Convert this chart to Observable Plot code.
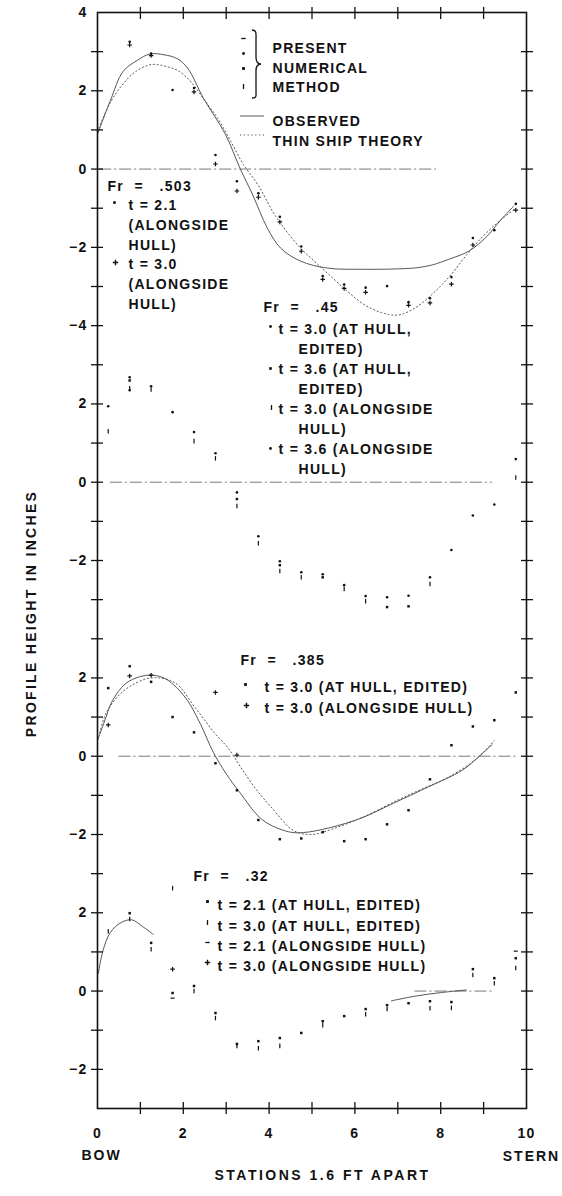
<!DOCTYPE html>
<html>
<head>
<meta charset="utf-8">
<script src="https://cdn.jsdelivr.net/npm/d3@7"></script>
<script src="https://cdn.jsdelivr.net/npm/@observablehq/plot@0.6"></script>
<style>
  body { margin: 0; background: #fff; }
  svg text { white-space: pre; }
</style>
</head>
<body>
<div id="chart"></div>
<script>
// ---------------- DATA ----------------
// stations along the hull (x values of the computed points)
const stations = [0.25, 0.75, 1.25, 1.75, 2.25, 2.75, 3.25, 3.75, 4.25, 4.75,
                  5.25, 5.75, 6.25, 6.75, 7.25, 7.75, 8.25, 8.75, 9.25, 9.75];

// Fr = .503
const fr503_t21Along = [null, 3.25, 2.95, 2.02, 2.07, 0.36, -0.31, -0.62, -1.22, -1.98, -2.73, -2.95, -3.03, -2.99, -3.40, -3.30, -2.76, -1.76, -1.56, -0.89];
const fr503_t30Along = [null, 3.17, 2.90, null, 1.97, 0.13, -0.56, -0.72, -1.35, -2.10, -2.82, -3.05, -3.15, null, -3.48, -3.42, -2.94, -1.94, null, -1.05];
const fr503_observed = [[0, 0.89], [0.3, 1.75], [0.6, 2.5], [0.93, 2.78], [1.22, 2.94], [1.55, 2.92], [1.86, 2.82], [2.1, 2.58], [2.47, 1.81], [2.98, 0.89], [3.33, 0], [3.61, -0.64], [3.96, -1.51], [4.27, -2.02], [4.73, -2.35], [5.36, -2.53], [6.2, -2.56], [7.0, -2.55], [7.45, -2.52], [7.8, -2.45], [8.2, -2.3], [8.65, -2.1], [9.05, -1.75], [9.4, -1.3], [9.7, -0.95]];
const fr503_theory = [[0.03, 1.05], [0.3, 1.7], [0.6, 2.18], [0.9, 2.5], [1.25, 2.67], [1.6, 2.62], [1.9, 2.5], [2.2, 2.2], [2.5, 1.75], [2.8, 1.3], [3.1, 0.72], [3.4, 0.12], [3.75, -0.42], [4.15, -1.2], [4.7, -1.98], [5.05, -2.35], [5.4, -2.7], [5.8, -3.1], [6.2, -3.45], [6.6, -3.66], [7.0, -3.73], [7.4, -3.55], [7.8, -3.2], [8.2, -2.75], [8.6, -2.2], [9.0, -1.7], [9.4, -1.3], [9.75, -1.0]];

// Fr = .45
const fr45_t30Hull  = [1.94, 2.68, 2.45, 1.79, 1.28, 0.74, -0.26, -1.38, -2.02, -2.30, -2.35, -2.63, -2.91, -2.94, -2.90, -2.43, -1.73, -0.85, -0.57, 0.59];
const fr45_t36Hull  = [null, 2.60, null, null, null, null, -0.43, null, -2.12, null, -2.43, null, null, -3.19, -3.17, null, null, null, null, null];
const fr45_t30Along = [1.30, 2.40, 2.37, null, 1.05, 0.61, -0.61, -1.56, -2.27, -2.43, null, -2.73, -3.04, null, null, -2.60, null, null, null, 0.12];
const fr45_t36Along = [null, 2.35, null, null, null, null, null, null, null, null, null, null, null, null, null, null, null, null, null, null];

// Fr = .385
const fr385_t30Hull  = [1.74, 2.30, 1.90, 1.00, 0.61, -0.18, -0.87, -1.63, -2.12, -2.10, -1.94, -2.17, -2.12, -1.74, -1.38, -0.59, 0.28, 0.76, 0.92, 1.63];
const fr385_t30Along = [0.80, 2.05, 2.07, null, null, 1.63, 0.03, null, null, null, null, null, null, null, null, null, null, null, null, null];
const fr385_observed = [[0, 0.4], [0.15, 0.85], [0.35, 1.42], [0.65, 1.85], [0.98, 2.03], [1.25, 2.07], [1.5, 2.02], [1.75, 1.85], [2.1, 1.42], [2.4, 0.82], [2.7, 0.1], [3.0, -0.45], [3.3, -0.9], [3.85, -1.63], [4.45, -1.93], [4.8, -1.95], [5.4, -1.83], [6.15, -1.58], [6.9, -1.2], [7.7, -0.79], [8.5, -0.36], [8.9, 0], [9.2, 0.3]];
const fr385_theory = [[0.05, 0.6], [0.2, 1.1], [0.45, 1.5], [0.75, 1.78], [1.25, 2.0], [1.8, 1.88], [2.27, 1.25], [2.74, 0.58], [3.05, 0.2], [3.35, -0.3], [3.7, -0.85], [4.05, -1.3], [4.57, -1.9], [5.0, -2.0], [5.5, -1.85], [6.2, -1.55], [7.0, -1.12], [7.6, -0.82], [8.1, -0.58], [8.8, -0.1], [9.25, 0.4]];

// Fr = .32
const fr32_t21Hull  = [null, 1.99, 1.23, -0.05, 0.13, -0.56, -1.35, -1.28, -1.20, -1.07, -0.77, -0.64, -0.46, -0.36, -0.31, -0.26, -0.28, 0.56, 0.33, 0.84];
const fr32_t30Hull  = [1.53, 1.84, 1.07, 2.63, 0.00, -0.69, -1.40, -1.46, -1.40, null, -0.87, null, -0.59, -0.46, null, -0.44, -0.43, 0.41, 0.20, 0.59];
const fr32_t21Along = [null, null, null, -0.18, null, null, null, null, null, null, null, null, null, null, null, null, null, null, null, 1.02];
const fr32_t30Along = [null, null, null, 0.56, null, null, null, null, null, null, null, null, null, null, null, null, null, null, null, null];
const fr32_observedBow   = [[0.02, 0.45], [0.12, 1.0], [0.3, 1.5], [0.55, 1.75], [0.8, 1.82], [1.05, 1.65], [1.3, 1.45]];
const fr32_observedStern = [[6.85, -0.25], [7.4, -0.13], [8.0, -0.04], [8.6, 0.03]];

// zero reference lines (x extent) per panel
const zeroExtent = {fr503: [0.05, 7.9], fr45: [0.3, 9.2], fr385: [0.5, 9.8], fr32: [7.4, 9.2]};

// tick labels of each panel (local units)
const tickLabels = {fr503: [4, 2, 0, -2, -4], fr45: [2, 0, -2], fr385: [2, 0, -2], fr32: [2, 0, -2]};
const xTickLabels = [0, 2, 4, 6, 8, 10];

// ---------------- LAYOUT ----------------
// vertical position of each panel's zero on the common axis
const panelZero = {fr503: 0, fr45: -8, fr385: -15, fr32: -21};
const ML = 97, MR = 36, MT = 12, MB = 88;

const fmt = v => v < 0 ? "\u2212" + Math.abs(v) : String(v);
const labelOf = new Map();
for (const p in tickLabels) for (const v of tickLabels[p]) labelOf.set(v + panelZero[p], fmt(v));

function pts(values, panel) {
  return stations.map((x, i) => ({x, y: values[i] == null ? null : values[i] + panelZero[panel]}))
                 .filter(d => d.y != null);
}
function crv(pairs, panel) {
  return pairs.map(([x, y]) => ({x, y: y + panelZero[panel]}));
}

// small marker symbols (filled)
const symDash = {draw(ctx, size) { const r = Math.sqrt(size / Math.PI); ctx.rect(-r * 1.7, -r * 0.5, r * 3.4, r * 1.0); }};
const symBar  = {draw(ctx, size) { const r = Math.sqrt(size / Math.PI); ctx.rect(-r * 0.5, -r * 1.9, r * 1.0, r * 3.8); }};
const symPlus = {draw(ctx, size) { const r = Math.sqrt(size / Math.PI);
  ctx.rect(-r * 1.5, -r * 0.4, r * 3.0, r * 0.8); ctx.rect(-r * 0.4, -r * 1.5, r * 0.8, r * 3.0); }};

const INK = "#111";
const dotOpts = (symbol, r = 1.4) => ({x: "x", y: "y", symbol, r, fill: INK, stroke: "none"});
const obsOpts = {x: "x", y: "y", curve: "catmull-rom", stroke: "#444", strokeWidth: 0.9};
const thyOpts = {x: "x", y: "y", curve: "catmull-rom", stroke: "#555", strokeWidth: 1, strokeDasharray: "1.2,2.6"};

// text helper: px = left x, base = baseline y (page pixels)
function txt(s, px, base, o = {}) {
  return Plot.text([s], {frameAnchor: "top-left", dx: px - ML, dy: base - 10 - MT,
    lineAnchor: "top", textAnchor: "start", fontSize: 14, fontWeight: "bold", fill: INK, lineHeight: 1.41, ...o});
}
function sym(symbol, px, py, r = 1.5) {
  return Plot.dot([0], {frameAnchor: "top-left", dx: px - ML, dy: py - MT, symbol, r, fill: INK, stroke: "none"});
}

const zeroRows = Object.keys(zeroExtent).map(p => ({x1: zeroExtent[p][0], x2: zeroExtent[p][1], y: panelZero[p]}));
const tickStyle = {stroke: INK, strokeWidth: 1.3, label: null, tickFormat: () => ""};

const plot = Plot.plot({
  width: 562, height: 1196,
  marginTop: MT, marginBottom: MB, marginLeft: ML, marginRight: MR,
  x: {domain: [0, 10], label: null},
  y: {domain: [-24, 4], label: null},
  style: {fontFamily: "'Liberation Sans', Arial, sans-serif", fontSize: "14px", fontWeight: "bold",
          letterSpacing: "1.3px", color: INK, background: "#fff"},
  marks: [
    // zero lines
    Plot.ruleY(zeroRows, {y: "y", x1: "x1", x2: "x2", stroke: "#555", strokeWidth: 0.8, strokeDasharray: "12,3,2,3"}),
    // curves
    Plot.line(crv(fr503_observed, "fr503"), obsOpts),
    Plot.line(crv(fr503_theory, "fr503"), thyOpts),
    Plot.line(crv(fr385_observed, "fr385"), obsOpts),
    Plot.line(crv(fr385_theory, "fr385"), thyOpts),
    Plot.line(crv(fr32_observedBow, "fr32"), obsOpts),
    Plot.line(crv(fr32_observedStern, "fr32"), obsOpts),
    // points
    Plot.dot(pts(fr503_t21Along, "fr503"), dotOpts("circle", 1.3)),
    Plot.dot(pts(fr503_t30Along, "fr503"), dotOpts(symPlus, 1.5)),
    Plot.dot(pts(fr45_t30Hull, "fr45"), dotOpts("circle", 1.3)),
    Plot.dot(pts(fr45_t36Hull, "fr45"), dotOpts("square", 1.4)),
    Plot.dot(pts(fr45_t30Along, "fr45"), dotOpts(symBar, 1.2)),
    Plot.dot(pts(fr45_t36Along, "fr45"), dotOpts("circle", 1.3)),
    Plot.dot(pts(fr385_t30Hull, "fr385"), dotOpts("square", 1.4)),
    Plot.dot(pts(fr385_t30Along, "fr385"), dotOpts(symPlus, 1.5)),
    Plot.dot(pts(fr32_t21Hull, "fr32"), dotOpts("square", 1.4)),
    Plot.dot(pts(fr32_t30Hull, "fr32"), dotOpts(symBar, 1.2)),
    Plot.dot(pts(fr32_t21Along, "fr32"), dotOpts(symDash, 1.2)),
    Plot.dot(pts(fr32_t30Along, "fr32"), dotOpts(symPlus, 1.5)),
    // frame and crossing ticks
    Plot.frame({stroke: INK, strokeWidth: 1.6}),
    Plot.axisY({ticks: d3.range(-23, 4), tickSize: 12, dx: 6, ...tickStyle}),
    Plot.axisY({anchor: "right", ticks: d3.range(-23, 4), tickSize: 12, dx: -6, ...tickStyle}),
    Plot.axisX({anchor: "top", ticks: d3.range(1, 10), tickSize: 12, dy: 6, ...tickStyle}),
    Plot.axisX({anchor: "bottom", ticks: d3.range(1, 10), tickSize: 12, dy: -6, ...tickStyle}),
    Plot.axisY({ticks: [...labelOf.keys()], tickSize: 0, tickPadding: 10, label: null, tickFormat: g => labelOf.get(g), fontSize: 14, fontWeight: "bold"}),
    Plot.axisX({anchor: "bottom", ticks: xTickLabels, tickSize: 0, tickPadding: 20, label: null, tickFormat: d => String(d), fontSize: 14, fontWeight: "bold"}),
    // axis titles
    Plot.text(["PROFILE HEIGHT IN INCHES"], {frameAnchor: "top-left", dx: 35 - ML, dy: 613 - MT, rotate: -90,
      textAnchor: "middle", lineAnchor: "bottom", fontSize: 14, fontWeight: "bold", fill: INK}),
    Plot.text(["BOW"], {frameAnchor: "top-left", dx: 101 - ML, dy: 1159 - MT, textAnchor: "middle", lineAnchor: "bottom", fontSize: 14, fontWeight: "bold", fill: INK}),
    Plot.text(["STERN"], {frameAnchor: "top-left", dx: 531 - ML, dy: 1160 - MT, textAnchor: "middle", lineAnchor: "bottom", fontSize: 14, fontWeight: "bold", fill: INK}),
    Plot.text(["STATIONS 1.6 FT APART"], {frameAnchor: "top-left", dx: 322 - ML, dy: 1179 - MT, textAnchor: "middle", lineAnchor: "bottom", fontSize: 14, fontWeight: "bold", fill: INK}),
    // main legend
    txt("PRESENT\nNUMERICAL\nMETHOD", 272, 49, {lineHeight: 1.39}),
    txt("OBSERVED\nTHIN SHIP THEORY", 272, 121, {lineHeight: 1.43}),
    sym(symDash, 243, 38, 1.3), sym("circle", 243, 53, 1.4), sym("square", 243, 68, 1.6), sym(symBar, 243, 86, 1.3),
    // Fr = .503
    txt("Fr  =   .503", 107, 186),
    txt("t = 2.1\n(ALONGSIDE\nHULL)", 128, 206, {lineHeight: 1.40}),
    txt("t = 3.0\n(ALONGSIDE\nHULL)", 128, 265, {lineHeight: 1.40}),
    sym("circle", 114, 202, 1.5), sym(symPlus, 115, 262, 1.8),
    // Fr = .45
    txt("Fr  =   .45", 263, 307),
    txt("t = 3.0 (AT HULL,", 278, 329), txt("EDITED)", 298, 349),
    txt("t = 3.6 (AT HULL,", 278, 369), txt("EDITED)", 298, 389),
    txt("t = 3.0 (ALONGSIDE", 278, 409), txt("HULL)", 298, 429),
    txt("t = 3.6 (ALONGSIDE", 278, 449), txt("HULL)", 298, 469),
    sym("circle", 270, 326, 1.4), sym("square", 270, 368, 1.5), sym(symBar, 271, 407, 1.3), sym("circle", 270, 448, 1.4),
    // Fr = .385
    txt("Fr  =   .385", 240, 660),
    txt("t = 3.0 (AT HULL, EDITED)", 264, 687),
    txt("t = 3.0 (ALONGSIDE HULL)", 264, 708),
    sym("square", 245, 684, 1.6), sym(symPlus, 246, 705, 1.8),
    // Fr = .32
    txt("Fr  =   .32", 193, 876),
    txt("t = 2.1 (AT HULL, EDITED)", 217, 905),
    txt("t = 3.0 (AT HULL, EDITED)", 217, 926),
    txt("t = 2.1 (ALONGSIDE HULL)", 217, 946),
    txt("t = 3.0 (ALONGSIDE HULL)", 217, 966),
    sym("square", 207, 901, 1.6), sym(symBar, 207, 922, 1.3), sym(symDash, 207, 942, 1.3), sym(symPlus, 207, 962, 1.8)
  ]
});

// legend decorations: brace and line samples
const svg = d3.select(plot);
svg.append("path")
  .attr("d", "M252,30 C257,30 256,34 256,40 L256,57 C256,62 258,64 261,64 C258,64 256,66 256,71 L256,91 C256,96 257,98 252,98")
  .attr("fill", "none").attr("stroke", INK).attr("stroke-width", 1.3);
svg.append("line").attr("x1", 240).attr("x2", 264).attr("y1", 116).attr("y2", 116)
  .attr("stroke", "#444").attr("stroke-width", 0.9);
svg.append("line").attr("x1", 240).attr("x2", 266).attr("y1", 135).attr("y2", 135)
  .attr("stroke", "#555").attr("stroke-width", 1).attr("stroke-dasharray", "1.2,2.6");

// letter spacing of titles
svg.selectAll("text").each(function() {
  const t = this.textContent;
  if (t === "PROFILE HEIGHT IN INCHES") this.style.letterSpacing = "2.3px";
  else if (t === "STATIONS 1.6 FT APART") this.style.letterSpacing = "2.5px";
  else if (t === "STERN" || t === "BOW") this.style.letterSpacing = "2px";
});

document.getElementById("chart").appendChild(plot);
</script>
</body>
</html>
